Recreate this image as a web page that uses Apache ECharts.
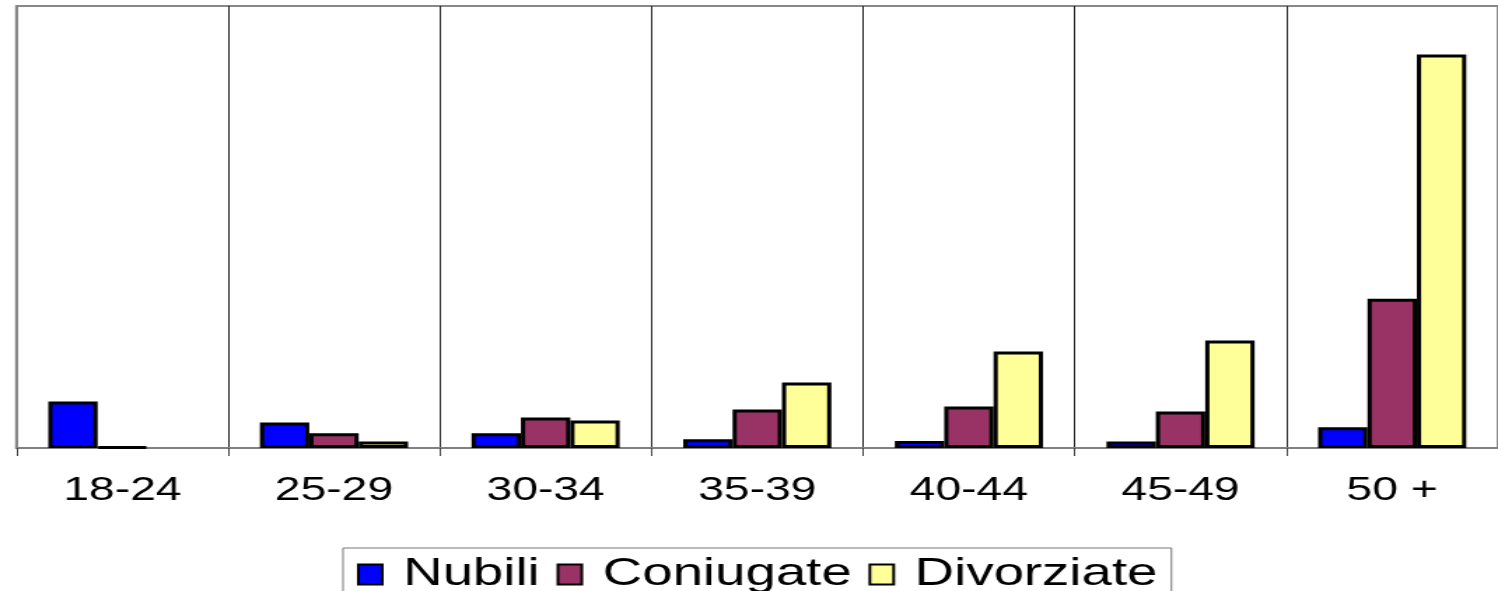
<!DOCTYPE html>
<html>
<head>
<meta charset="utf-8">
<script src="https://cdn.jsdelivr.net/npm/echarts@6/dist/echarts.min.js"></script>
<style>
  html, body { margin: 0; padding: 0; background: #fff; overflow: hidden; }
  /* the reference is a horizontally stretched picture, so stretch the chart the same way */
  #chart { width: 1070px; height: 591px; transform: scaleX(1.4); transform-origin: 0 0; }
</style>
</head>
<body>
<div id="chart"></div>
<script>
const categories = ['18-24', '25-29', '30-34', '35-39', '40-44', '45-49', '50 +'];
const nubili = [4.73, 2.6, 1.5, 0.9, 0.7, 0.65, 2.1];
const coniugate = [0.1, 1.5, 3.1, 3.92, 4.22, 3.72, 15.2];
const divorziate = [null, 0.65, 2.8, 6.67, 9.83, 10.94, 40.06];

const chart = echarts.init(document.getElementById('chart'));

function barSeries(name, data, color) {
  return {
    name: name,
    type: 'bar',
    data: data,
    barGap: '0%',
    barCategoryGap: '30%',
    itemStyle: { color: color, borderColor: '#000', borderWidth: 3 }
  };
}

const option = {
  animation: false,
  backgroundColor: '#fff',
  textStyle: { fontFamily: '"Liberation Sans", Arial, sans-serif' },
  grid: {
    left: 11.8, right: -4.3, top: 6, bottom: 143,
    show: true, borderColor: '#888', borderWidth: 2
  },
  legend: {
    data: ['Nubili', 'Coniugate', 'Divorziate'],
    left: 245, top: 548,
    padding: [7, 10, 20, 10],
    borderColor: '#777', borderWidth: 1,
    icon: 'rect',
    itemWidth: 17, itemHeight: 20, itemGap: 12,
    itemStyle: { borderColor: '#000', borderWidth: 2 },
    textStyle: { fontSize: 39, color: '#000', padding: [0, 0, 0, 10] }
  },
  xAxis: {
    type: 'category',
    data: categories,
    axisLine: { lineStyle: { color: '#808080', width: 2 } },
    axisTick: { show: true, length: 8, lineStyle: { color: '#444' } },
    axisLabel: { fontSize: 33, color: '#000', margin: 26 },
    splitLine: { show: true, lineStyle: { color: '#222', width: 1 } }
  },
  yAxis: {
    type: 'value',
    min: 0, max: 45,
    axisLine: { show: true, lineStyle: { color: '#888', width: 2 } },
    axisTick: { show: false },
    axisLabel: { show: false },
    splitLine: { show: false }
  },
  series: [
    barSeries('Nubili', nubili, '#0000ff'),
    barSeries('Coniugate', coniugate, '#993366'),
    barSeries('Divorziate', divorziate, '#ffff99')
  ]
};

chart.setOption(option);
</script>
</body>
</html>
